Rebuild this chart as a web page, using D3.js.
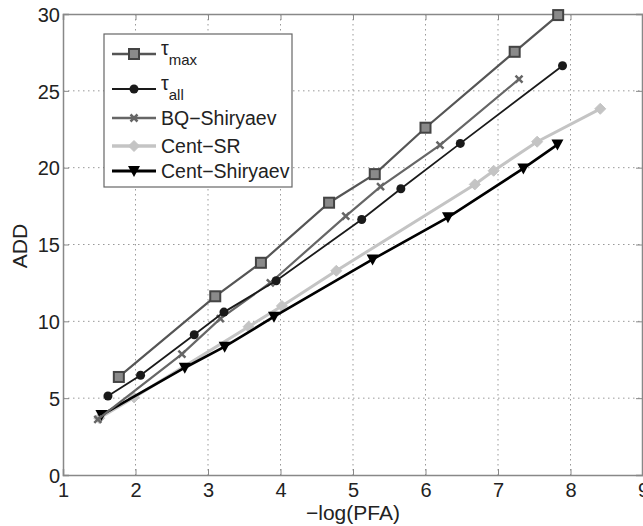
<!DOCTYPE html>
<html><head><meta charset="utf-8">
<script src="https://cdn.jsdelivr.net/npm/d3@7"></script>
<style>body{margin:0;background:#fff}svg{display:block}text{font-family:"Liberation Sans",Arial,sans-serif}</style>
</head><body>
<script>
const xTicks = [1,2,3,4,5,6,7,8,9];
const yTicks = [0,5,10,15,20,25,30];

const tauMaxX = [1.77,3.10,3.73,4.67,5.30,6.00,7.23,7.83];
const tauMaxY = [6.38,11.63,13.81,17.72,19.58,22.6,27.54,29.93];
const tauAllX = [1.62,2.07,2.81,3.22,3.94,5.12,5.66,6.48,7.89];
const tauAllY = [5.14,6.49,9.13,10.6,12.64,16.63,18.63,21.58,26.63];
const bqX = [1.48,2.64,3.17,3.86,4.90,5.38,6.20,7.29];
const bqY = [3.62,7.87,10.17,12.51,16.85,18.76,21.47,25.76];
const srX = [1.50,1.98,3.56,4.02,4.77,6.68,6.94,7.54,8.41];
const srY = [3.70,5.05,9.65,11.0,13.29,18.91,19.8,21.69,23.83];
const csX = [1.53,2.68,3.23,3.91,5.27,6.31,7.35,7.82];
const csY = [3.90,6.98,8.35,10.3,14.03,16.77,19.95,21.5];

const W = 643, H = 526;
const L = 63, R = 643, T = 14, B = 475;
const svg = d3.select("body").append("svg").attr("width", W).attr("height", H);
const x = d3.scaleLinear().domain([1,9]).range([L,R]);
const y = d3.scaleLinear().domain([0,30]).range([B,T]);

// grid
const grid = svg.append("g").attr("stroke","#999").attr("stroke-width",1).attr("stroke-dasharray","1.5,3.5");
xTicks.slice(1,-1).forEach(v=>grid.append("line").attr("x1",x(v)).attr("x2",x(v)).attr("y1",T).attr("y2",B));
yTicks.slice(1,-1).forEach(v=>grid.append("line").attr("y1",y(v)).attr("y2",y(v)).attr("x1",L).attr("x2",R));

// axes (MATLAB style, inward ticks)
const axB = svg.append("g").attr("transform",`translate(0,${B})`).call(d3.axisBottom(x).tickValues(xTicks).tickSize(-6).tickPadding(8).tickFormat(d3.format("d")));
const axT = svg.append("g").attr("transform",`translate(0,${T})`).call(d3.axisTop(x).tickValues(xTicks).tickSize(-6).tickFormat(""));
const axL = svg.append("g").attr("transform",`translate(${L},0)`).call(d3.axisLeft(y).tickValues(yTicks).tickSize(-6).tickPadding(3).tickFormat(d3.format("d")));
const axR = svg.append("g").attr("transform",`translate(${R-1},0)`).call(d3.axisRight(y).tickValues(yTicks).tickSize(-6).tickFormat(""));
[axB,axT,axL,axR].forEach(a=>{
  a.selectAll("path.domain").attr("stroke","#888").attr("stroke-width",1.5);
  a.selectAll(".tick line").attr("stroke","#888").attr("stroke-width",1);
  a.selectAll(".tick text").attr("fill","#222").style("font-size","20px").style("font-family","'Liberation Sans',Arial,sans-serif");
});
axB.selectAll(".tick text").attr("dy","0.72em");
axL.selectAll(".tick text").attr("dy","0.36em");

svg.append("text").attr("x",x(5)).attr("y",520).attr("text-anchor","middle").attr("fill","#222").style("font-size","21px").text("\u2212log(PFA)");
svg.append("text").attr("transform",`translate(27,246) rotate(-90)`).attr("text-anchor","middle").attr("fill","#222").style("font-size","21px").text("ADD");

const series = [
  {name:"tmax", xs:tauMaxX, ys:tauMaxY, color:"#555", w:2.2, marker:"square"},
  {name:"tall", xs:tauAllX, ys:tauAllY, color:"#1a1a1a", w:1.8, marker:"circle"},
  {name:"BQ-Shiryaev", xs:bqX, ys:bqY, color:"#666", w:2.2, marker:"cross"},
  {name:"Cent-SR", xs:srX, ys:srY, color:"#c4c4c4", w:3, marker:"diamond"},
  {name:"Cent-Shiryaev", xs:csX, ys:csY, color:"#000", w:2.6, marker:"tri"}
];

function drawMarker(g, type, cx, cy, color){
  if(type==="square"){
    g.append("rect").attr("x",cx-5).attr("y",cy-5).attr("width",10).attr("height",10).attr("fill","#8a8a8a").attr("stroke","#444").attr("stroke-width",2);
  } else if(type==="circle"){
    g.append("circle").attr("cx",cx).attr("cy",cy).attr("r",4.5).attr("fill","#1a1a1a");
  } else if(type==="cross"){
    g.append("path").attr("d",`M${cx-3.5},${cy-3.5}L${cx+3.5},${cy+3.5}M${cx-3.5},${cy+3.5}L${cx+3.5},${cy-3.5}`).attr("stroke",color).attr("stroke-width",2.5);
  } else if(type==="diamond"){
    g.append("path").attr("d",`M${cx},${cy-5.5}L${cx+5.5},${cy}L${cx},${cy+5.5}L${cx-5.5},${cy}Z`).attr("fill",color).attr("stroke",color).attr("stroke-width",1);
  } else if(type==="tri"){
    g.append("path").attr("d",`M${cx-6},${cy-5}L${cx+6},${cy-5}L${cx},${cy+6}Z`).attr("fill","#000");
  }
}

const line = d3.line().x(d=>x(d[0])).y(d=>y(d[1]));
const drawOrder = [3,4,2,1,0];
drawOrder.forEach(i=>{
  const s = series[i];
  const pts = s.xs.map((v,j)=>[v,s.ys[j]]);
  const g = svg.append("g");
  g.append("path").attr("d",line(pts)).attr("fill","none").attr("stroke",s.color).attr("stroke-width",s.w);
  pts.forEach(p=>drawMarker(g,s.marker,x(p[0]),y(p[1]),s.color));
});

// legend
const lg = svg.append("g");
lg.append("rect").attr("x",104).attr("y",34).attr("width",188).attr("height",153).attr("fill","#fff").attr("stroke","#666").attr("stroke-width",1.2);
const rowsY = [54,89,118,146,171];
series.forEach((s,i)=>{
  const yy = rowsY[i];
  lg.append("line").attr("x1",112).attr("x2",156).attr("y1",yy).attr("y2",yy).attr("stroke",s.color).attr("stroke-width",s.w+0.4);
  drawMarker(lg,s.marker,134,yy,s.color);
  const t = lg.append("text").attr("x",161).attr("y",yy+7).attr("fill","#222").style("font-size","19.5px");
  if(i===0){
    t.append("tspan").text("\u03c4").attr("dy",-6);
    t.append("tspan").text("max").style("font-size","15px").attr("dy",10);
  } else if(i===1){
    t.append("tspan").text("\u03c4").attr("dy",-6);
    t.append("tspan").text("all").style("font-size","15px").attr("dy",10);
  } else {
    t.text(s.name.replace("-","\u2212"));
  }
});
</script>
</body></html>
